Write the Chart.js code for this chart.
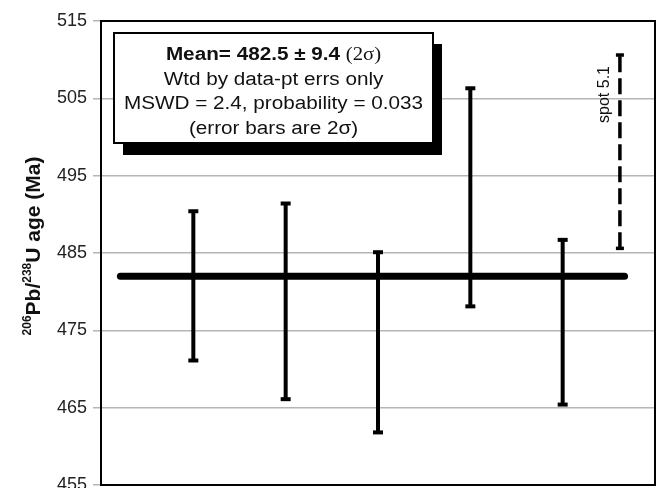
<!DOCTYPE html>
<html>
<head>
<meta charset="utf-8">
<script src="https://cdn.jsdelivr.net/npm/chart.js@4/dist/chart.umd.min.js"></script>
<style>
  html, body { margin: 0; padding: 0; background: #fff; }
  #wrap { width: 661px; height: 488px; }
</style>
</head>
<body>
<div id="wrap"><canvas id="myChart" width="661" height="488"></canvas></div>
<script>
// analysis positions along the hidden x axis
const spotX = [1, 2, 3, 4, 5];
const lowerAge = [471.1, 466.1, 461.8, 478.1, 465.4];
const upperAge = [490.4, 491.4, 485.1, 506.3, 486.7];
// rejected analysis (dashed)
const rejectedX = [5.62];
const rejectedLower = [485.6];
const rejectedUpper = [510.6];
const rejectedLabel = "spot 5.1";
// weighted mean line
const meanX = [0.21, 5.67];
const meanAge = [482, 482];
// y axis
const yMin = 455, yMax = 515, yStep = 10;
const boxLines = ["Wtd by data-pt errs only", "MSWD = 2.4, probability = 0.033", "(error bars are 2\u03c3)"];

const datasets = [];
datasets.push({
  data: meanX.map((x, i) => ({ x: x, y: meanAge[i] })),
  showLine: true,
  borderColor: "#000",
  borderWidth: 7,
  borderCapStyle: "round",
  pointRadius: 0,
});
spotX.forEach((x, i) => {
  datasets.push({
    data: [{ x: x, y: lowerAge[i] }, { x: x, y: upperAge[i] }],
    showLine: true,
    borderColor: "#000",
    borderWidth: 4,
    pointStyle: "line",
    pointRadius: 5,
    pointBorderWidth: 4,
    pointBorderColor: "#000",
  });
});
rejectedX.forEach((x, i) => {
  datasets.push({
    data: [{ x: x, y: rejectedLower[i] }, { x: x, y: rejectedUpper[i] }],
    showLine: true,
    borderColor: "#000",
    borderWidth: 3.5,
    borderDash: [16, 6],
    pointStyle: "line",
    pointRadius: 4,
    pointBorderWidth: 3.5,
    pointBorderColor: "#000",
  });
});

const sans = "'Liberation Sans', Arial, sans-serif";
const stretch = 1.15; // the reference text is a bit wide

const decorations = {
  id: "decorations",
  afterDatasetsDraw(chart) {
    const ctx = chart.ctx;
    const area = chart.chartArea;
    const xs = chart.scales.x, ys = chart.scales.y;
    ctx.save();
    // text box with shadow
    ctx.fillStyle = "#000";
    ctx.fillRect(123, 44, 319, 111);
    ctx.fillStyle = "#fff";
    ctx.fillRect(114, 33, 319, 110);
    ctx.strokeStyle = "#000";
    ctx.lineWidth = 2;
    ctx.strokeRect(114, 33, 319, 110);
    const cx = 273.5;
    ctx.save();
    ctx.translate(cx, 0);
    ctx.scale(stretch, 1);
    ctx.fillStyle = "#111";
    ctx.textBaseline = "middle";
    // first line: bold part + serif (2σ)
    const boldTxt = "Mean= 482.5 \u00b1 9.4 ";
    const serifTxt = "(2\u03c3)";
    ctx.font = "bold 18px " + sans;
    const w1 = ctx.measureText(boldTxt).width;
    ctx.font = "18px 'Liberation Serif', 'Times New Roman', serif";
    const w2 = ctx.measureText(serifTxt).width;
    const sx = -(w1 + w2) / 2;
    ctx.textAlign = "left";
    ctx.font = "bold 18px " + sans;
    ctx.fillText(boldTxt, sx, 55);
    ctx.font = "18px 'Liberation Serif', 'Times New Roman', serif";
    ctx.fillText(serifTxt, sx + w1, 55);
    ctx.textAlign = "center";
    ctx.font = "18px " + sans;
    boxLines.forEach((t, i) => ctx.fillText(t, 0, 80 + i * 24.5));
    ctx.restore();

    // label for the rejected spot
    ctx.save();
    ctx.translate(xs.getPixelForValue(rejectedX[0]) - 11, ys.getPixelForValue(505.5));
    ctx.rotate(-Math.PI / 2);
    ctx.font = "16px " + sans;
    ctx.fillStyle = "#111";
    ctx.textAlign = "center";
    ctx.textBaseline = "alphabetic";
    ctx.fillText(rejectedLabel, 0, 0);
    ctx.restore();

    // plot frame
    ctx.strokeStyle = "#000";
    ctx.lineWidth = 2;
    ctx.strokeRect(area.left, area.top, area.right - area.left, area.bottom - area.top);
    ctx.restore();
  },
  afterDraw(chart) {
    // y axis title with superscripts
    const ctx = chart.ctx;
    const parts = [
      { t: "206", sup: true }, { t: "Pb/", sup: false },
      { t: "238", sup: true }, { t: "U age (Ma)", sup: false },
    ];
    const big = "bold 21px " + sans;
    const small = "bold 12px " + sans;
    ctx.save();
    let total = 0;
    parts.forEach(p => { ctx.font = p.sup ? small : big; p.w = ctx.measureText(p.t).width; total += p.w; });
    ctx.translate(40, 246);
    ctx.rotate(-Math.PI / 2);
    ctx.fillStyle = "#111";
    ctx.textAlign = "left";
    ctx.textBaseline = "alphabetic";
    let px = -total / 2;
    parts.forEach(p => {
      ctx.font = p.sup ? small : big;
      ctx.fillText(p.t, px, p.sup ? -9 : 0);
      px += p.w;
    });
    ctx.restore();
  },
};

new Chart(document.getElementById("myChart").getContext("2d"), {
  type: "scatter",
  data: { datasets: datasets },
  options: {
    responsive: false,
    animation: false,
    layout: { autoPadding: false, padding: { top: 21, right: 6, bottom: 3, left: 0 } },
    plugins: { legend: { display: false }, tooltip: { enabled: false } },
    scales: {
      x: { type: "linear", min: 0, max: 6, display: false },
      y: {
        min: yMin,
        max: yMax,
        afterFit(scale) {
          scale.width = 101;
          scale.paddingTop = 0;
          scale.paddingBottom = 0;
        },
        ticks: {
          stepSize: yStep,
          padding: 6,
          color: "#222",
          font: { family: sans, size: 18 },
        },
        grid: { color: "#b5b5b5", lineWidth: 1.5, tickLength: 8 },
        border: { display: false },
      },
    },
  },
  plugins: [decorations],
});
</script>
</body>
</html>
